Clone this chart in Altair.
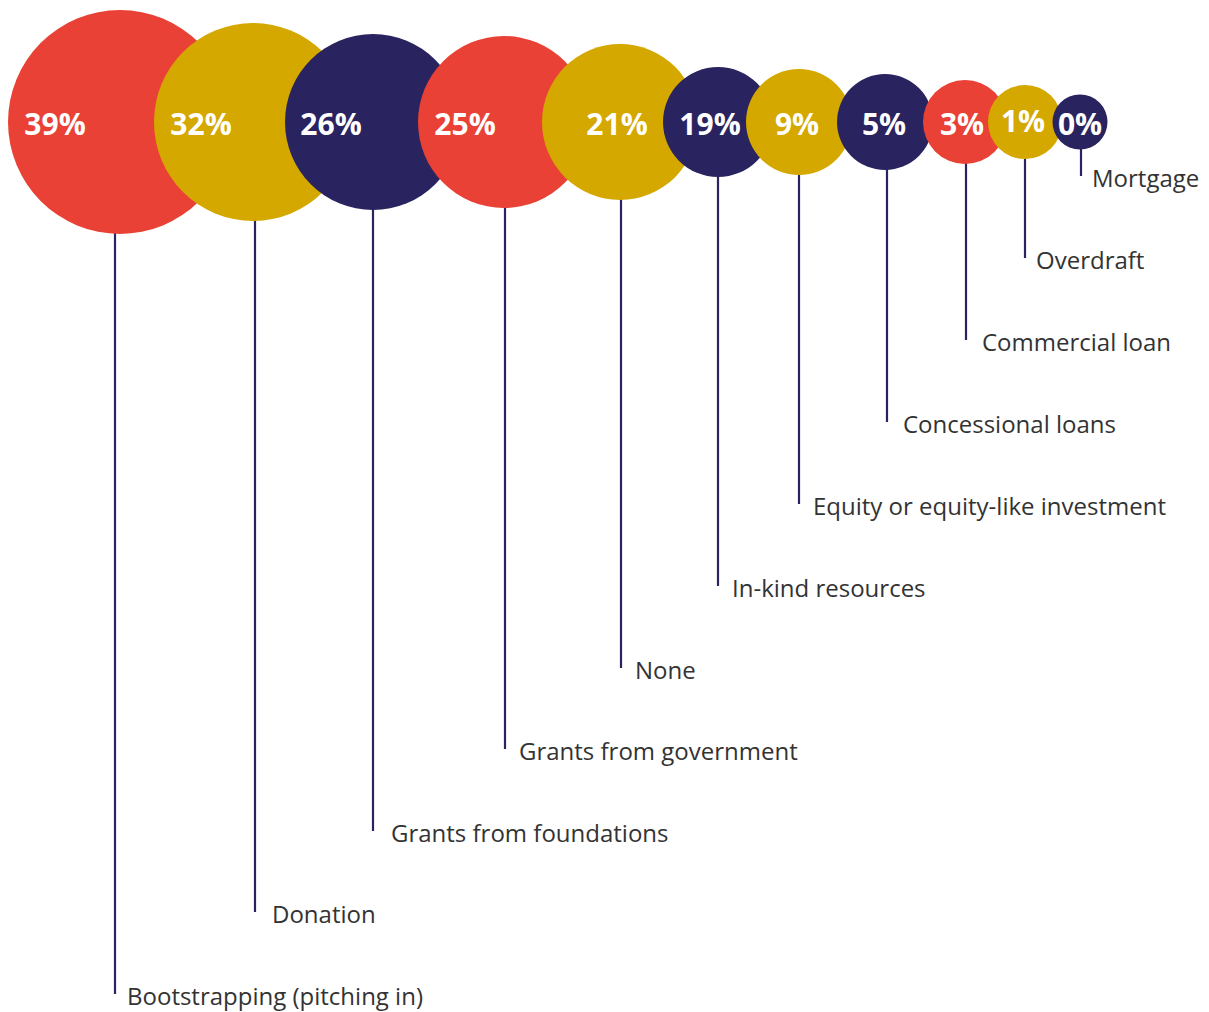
import altair as alt
import pandas as pd

# --- data ---
categories = ["Bootstrapping (pitching in)", "Donation", "Grants from foundations",
              "Grants from government", "None", "In-kind resources",
              "Equity or equity-like investment", "Concessional loans",
              "Commercial loan", "Overdraft", "Mortgage"]
pct_labels = ["39%", "32%", "26%", "25%", "21%", "19%", "9%", "5%", "3%", "1%", "0%"]
colors = ["#E94135", "#D5A800", "#29235F", "#E94135", "#D5A800", "#29235F",
          "#D5A800", "#29235F", "#E94135", "#D5A800", "#29235F"]

# --- layout (infographic positions, in px) ---
circle_x = [120, 253, 373, 504, 620, 718, 799, 885, 965, 1025, 1080]
circle_r = [112, 99, 88, 86, 78, 55, 53, 48, 42, 37, 27.5]
pct_x = [55, 201, 331, 465, 617, 710, 797, 884, 962, 1023, 1080]
pct_base = [135, 135, 135, 135, 135, 135, 135, 135, 135, 132, 135]
line_x = [115, 255, 373, 505, 621, 718, 799, 887, 966, 1025, 1081]
label_x = [127, 272, 391, 519, 635, 732, 813, 903, 982, 1036, 1092]
label_base = [1005, 923, 842, 760, 679, 597, 515, 433, 351, 269, 187]

CY = 122
W, H = 1209, 1012

df = pd.DataFrame({
    "cat": categories,
    "pct": pct_labels,
    "color": colors,
    "cx": circle_x,
    # Vega symbol size is the area of the bounding square: (2r)^2
    "area": [(2 * r) ** 2 for r in circle_r],
    "cy": [CY] * len(categories),
    "px": pct_x,
    "py": pct_base,
    "lx": line_x,
    "lend": [b - 11 for b in label_base],
    "tx": label_x,
    "ty": label_base,
    "order": list(range(len(categories))),
})

xs = alt.Scale(domain=[0, W], range=[0, W])
ys = alt.Scale(domain=[0, H], range=[0, H])

base = alt.Chart(df)

lines = base.mark_rule(color="#29235F", strokeWidth=2.2).encode(
    x=alt.X("lx:Q", scale=xs, axis=None),
    y=alt.Y("cy:Q", scale=ys, axis=None),
    y2="lend:Q",
)

circles = base.mark_circle(opacity=1).encode(
    x=alt.X("cx:Q", scale=xs, axis=None),
    y=alt.Y("cy:Q", scale=ys, axis=None),
    size=alt.Size("area:Q", scale=None, legend=None),
    color=alt.Color("color:N", scale=None, legend=None),
    order=alt.Order("order:Q"),
)

pcts = base.mark_text(font="Open Sans", fontWeight="bold", fontSize=30,
                      color="white", align="center", baseline="alphabetic").encode(
    x=alt.X("px:Q", scale=xs, axis=None),
    y=alt.Y("py:Q", scale=ys, axis=None),
    text="pct:N",
)

labels = base.mark_text(font="Open Sans", fontSize=24, color="#333333",
                        align="left", baseline="alphabetic").encode(
    x=alt.X("tx:Q", scale=xs, axis=None),
    y=alt.Y("ty:Q", scale=ys, axis=None),
    text="cat:N",
)

chart = alt.layer(lines, circles, pcts, labels).properties(
    width=W, height=H, padding=0, autosize=alt.AutoSizeParams(type="none"),
    background="white",
).configure_view(stroke=None)

chart.save("out.html", embed_options={"renderer": "svg", "actions": False})
